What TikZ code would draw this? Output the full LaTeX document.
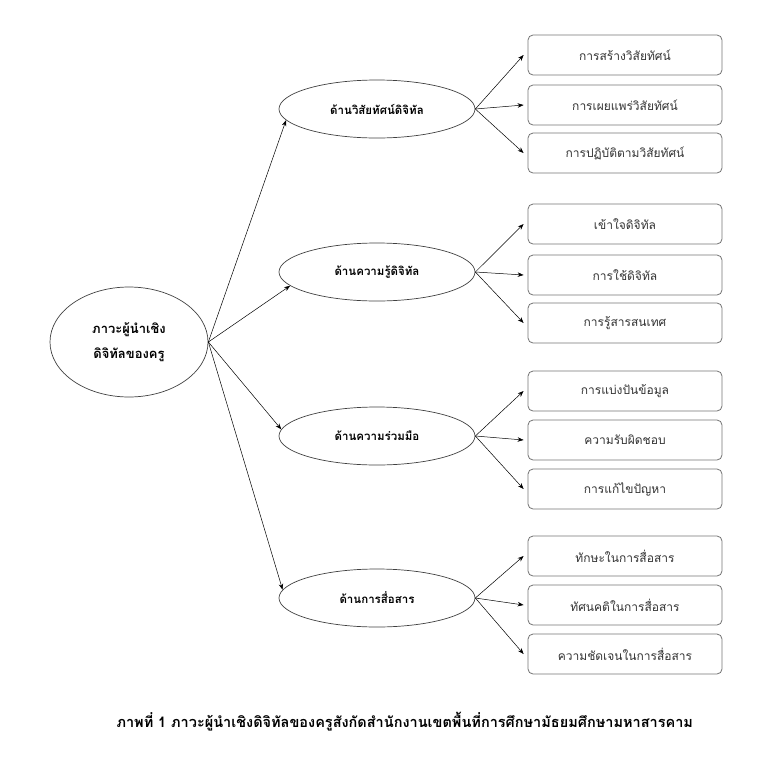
\documentclass[tikz,border=0pt]{standalone}
\usepackage{fontspec}
\newfontfamily\thaifont[Script=Thai]{Loma}
\usetikzlibrary{shapes.geometric,arrows.meta}
\begin{document}
\begin{tikzpicture}[x=1pt,y=-1pt,
  every node/.style={font=\thaifont\fontsize{12}{14}\selectfont},
  rootell/.style={ellipse,draw=black!75,line width=0.7pt,minimum width=158pt,minimum height=110pt,inner sep=0pt,align=center,font=\thaifont\bfseries\fontsize{13}{25}\selectfont},
  midell/.style={ellipse,draw=black!75,line width=0.7pt,minimum width=196pt,minimum height=58pt,inner sep=0pt,font=\thaifont\bfseries\fontsize{11.5}{14}\selectfont},
  leafbox/.style={rectangle,rounded corners=5pt,draw=black!55,line width=0.8pt,minimum width=194pt,minimum height=40pt,inner sep=0pt,text=black!80},
  conn/.style={-{Stealth[length=6pt,width=4.5pt]},line width=0.5pt,black}
]
\useasboundingbox (0,0) rectangle (764,764);
\node[rootell] (root) at (129,342) {ภาวะผู้นำเชิง\\ดิจิทัลของครู};
\node[midell] (m1) at (377,109) {ด้านวิสัยทัศน์ดิจิทัล};
\node[midell] (m2) at (377,272) {ด้านความรู้ดิจิทัล};
\node[midell] (m3) at (377,436) {ด้านความร่วมมือ};
\node[midell] (m4) at (377,598) {ด้านการสื่อสาร};

\node[leafbox] (a1) at (625,55) {การสร้างวิสัยทัศน์};
\node[leafbox] (a2) at (625,105) {การเผยแพร่วิสัยทัศน์};
\node[leafbox] (a3) at (625,153) {การปฏิบัติตามวิสัยทัศน์};
\node[leafbox] (b1) at (625,224) {เข้าใจดิจิทัล};
\node[leafbox] (b2) at (625,275) {การใช้ดิจิทัล};
\node[leafbox] (b3) at (625,323) {การรู้สารสนเทศ};
\node[leafbox] (c1) at (625,391) {การแบ่งปันข้อมูล};
\node[leafbox] (c2) at (625,440) {ความรับผิดชอบ};
\node[leafbox] (c3) at (625,489) {การแก้ไขปัญหา};
\node[leafbox] (d1) at (625,556) {ทักษะในการสื่อสาร};
\node[leafbox] (d2) at (625,605) {ทัศนคติในการสื่อสาร};
\node[leafbox] (d3) at (625,654) {ความชัดเจนในการสื่อสาร};

\draw[conn] (root.east) -- (m1.187);
\draw[conn] (root.east) -- (m2.189);
\draw[conn] (root.east) -- (m3.176);
\draw[conn] (root.east) -- (m4.175);
\foreach \m/\a/\b/\c in {m1/a1/a2/a3,m2/b1/b2/b3,m3/c1/c2/c3,m4/d1/d2/d3}{
  \draw[conn] (\m.east) -- ([xshift=-4pt]\a.west);
  \draw[conn] (\m.east) -- ([xshift=-4pt]\b.west);
  \draw[conn] (\m.east) -- ([xshift=-4pt]\c.west);
}
\node[font=\thaifont\bfseries\fontsize{14.5}{16}\selectfont,anchor=west] (cap) at (113,722) {ภาพที่ 1 ภาวะผู้นำเชิงดิจิทัลของครูสังกัดสำนักงานเขตพื้นที่การศึกษามัธยมศึกษามหาสารคาม};
\end{tikzpicture}
\end{document}
